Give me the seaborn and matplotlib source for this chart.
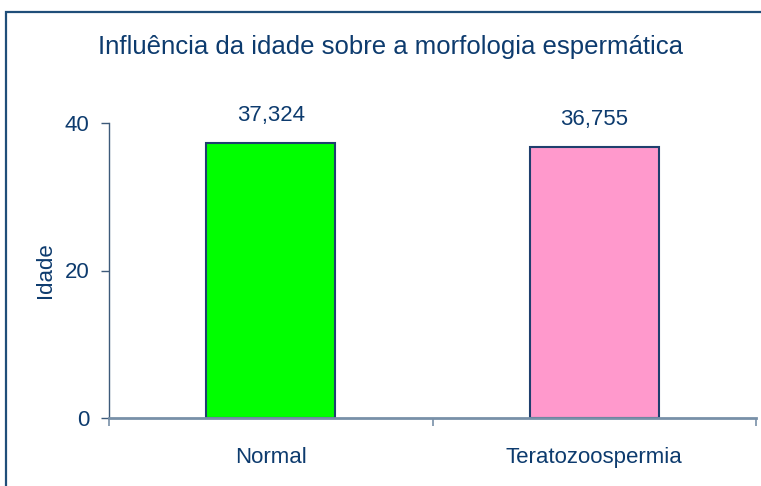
import matplotlib
matplotlib.use("Agg")
import matplotlib.pyplot as plt
import seaborn as sns
import pandas as pd
from matplotlib.patches import Rectangle

categories = ["Normal", "Teratozoospermia"]
values = [37.324, 36.755]
colors = ["#00FF00", "#FF99CC"]
title = "Influência da idade sobre a morfologia espermática"
ylabel = "Idade"
yticks = [0, 20, 40]

sns.set_theme(style="white")
plt.rcParams["font.family"] = ["Liberation Sans", "DejaVu Sans"]

W, H = 761, 486
fig = plt.figure(figsize=(W / 100, H / 100), dpi=100)
fig.patch.set_facecolor("white")

# outer frame (left & top visible)
fig.patches.append(Rectangle((6 / W, -0.1), 1.2, (H - 12) / H + 0.1, transform=fig.transFigure,
                             fill=False, edgecolor="#1F4E79", linewidth=1.6, zorder=0))

ax = fig.add_axes([109 / W, (H - 418) / H, (756 - 109) / W, (418 - 123) / H])
df = pd.DataFrame({"cat": categories, "val": values})
sns.barplot(data=df, x="cat", y="val", hue="cat", palette=colors, width=0.4,
            edgecolor="#1F3F6E", linewidth=1.5, ax=ax, legend=False, saturation=1)

txt = "#0D3B6E"
ax.set_ylim(0, 40)
ax.set_xlim(-0.5, 1.5)
ax.set_yticks(yticks)
ax.set_yticklabels([str(t) for t in yticks], fontsize=16, color=txt)
ax.set_xticks([0, 1])
ax.set_xticklabels(categories, fontsize=16, color=txt)
ax.set_xticks([-0.5, 0.5, 1.5], minor=True)
ax.tick_params(axis="x", which="major", length=0, pad=21)
ax.tick_params(axis="x", which="minor", length=6, width=1.2, color="#7890A8", direction="out", bottom=True)
ax.tick_params(axis="y", which="major", length=6, width=1, color="#3D5A7A", direction="out", left=True, pad=8)
ax.set_xlabel("")
ax.set_ylabel(ylabel, fontsize=16, color=txt, labelpad=6)

for s in ["top", "right"]:
    ax.spines[s].set_visible(False)
ax.spines["left"].set_color("#3D5A7A")
ax.spines["left"].set_linewidth(1.0)
ax.spines["bottom"].set_color("#7890A8")
ax.spines["bottom"].set_linewidth(2)

for i, v in enumerate(values):
    ax.text(i, v + 3.7, f"{v:.3f}".replace(".", ","), ha="center", va="center",
            fontsize=16, color=txt, clip_on=False)

fig.text(390 / W, 1 - 47 / H, title, ha="center", va="center", fontsize=18.5, color=txt)

fig.savefig("out.png", dpi=100)
